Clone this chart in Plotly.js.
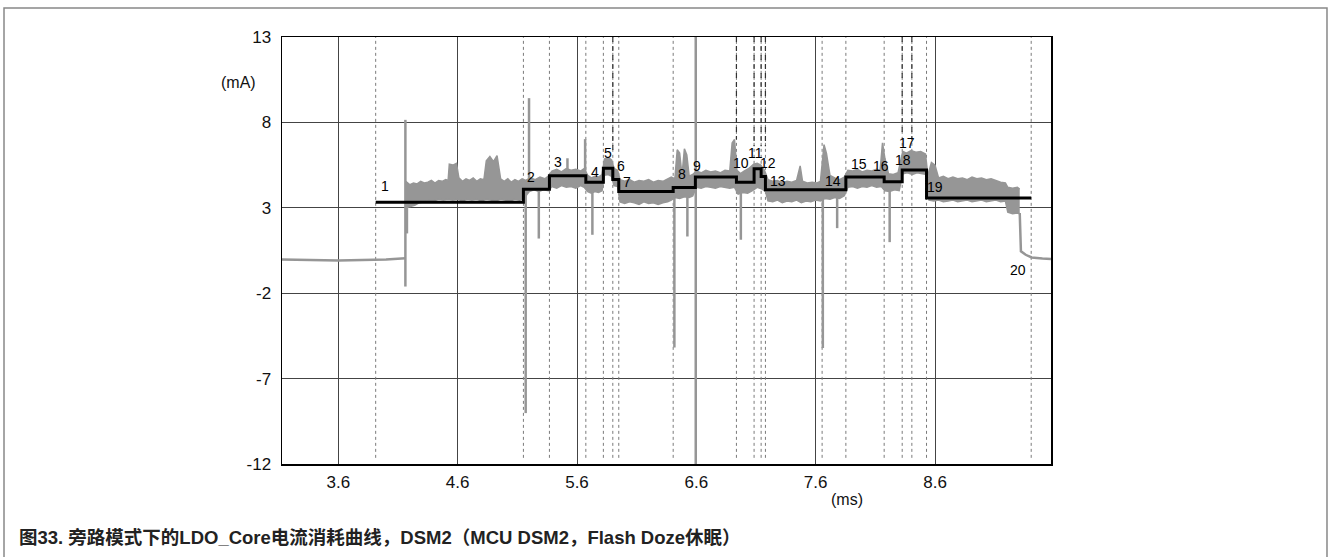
<!DOCTYPE html>
<html>
<head>
<meta charset="utf-8">
<script src="https://cdn.plot.ly/plotly-3.0.1.min.js"></script>
<style>
html,body{margin:0;padding:0;background:#fff;}
#chart{width:1331px;height:557px;}
</style>
</head>
<body>
<div id="chart"></div>
<script>
// ---------- data ----------
// x axis ticks (ms)
var xTicks = [3.6, 4.6, 5.6, 6.6, 7.6, 8.6];
var yTicks = [-12, -7, -2, 3, 8, 13];

// idle current before the event (mA)
var leadX = [3.128, 3.6, 4.0, 4.155, 4.162];
var leadY = [-0.03, -0.08, -0.03, 0.02, 0.05];

// upper envelope of the measured current band
var upX = [4.165,4.20,4.23,4.26,4.29,4.32,4.35,4.38,4.41,4.44,4.47,4.50,4.52,4.53,4.56,4.59,4.61,4.64,4.67,4.70,4.73,4.76,4.79,4.82,4.84,4.87,4.90,4.93,4.96,4.99,5.02,5.05,5.08,5.11,5.14,5.17,5.21,5.25,5.29,5.33,5.36,5.39,5.43,5.47,5.51,5.55,5.59,5.63,5.66,5.69,5.72,5.75,5.78,5.81,5.83,5.86,5.89,5.91,5.94,5.96,6.00,6.04,6.08,6.12,6.16,6.20,6.24,6.28,6.32,6.36,6.39,6.42,6.44,6.46,6.48,6.50,6.52,6.54,6.57,6.60,6.64,6.68,6.72,6.76,6.80,6.84,6.88,6.90,6.92,6.94,6.97,7.00,7.04,7.08,7.11,7.14,7.17,7.20,7.24,7.28,7.32,7.36,7.40,7.44,7.47,7.49,7.53,7.57,7.61,7.64,7.67,7.69,7.72,7.76,7.80,7.84,7.87,7.91,7.95,7.99,8.03,8.07,8.11,8.14,8.16,8.18,8.21,8.25,8.29,8.33,8.36,8.40,8.44,8.48,8.52,8.54,8.57,8.60,8.63,8.67,8.71,8.75,8.79,8.83,8.87,8.91,8.95,8.99,9.03,9.07,9.11,9.15,9.19,9.21,9.25,9.29,9.31];
var upY = [4.55,4.35,4.45,4.40,4.55,4.45,4.50,4.60,4.45,4.60,4.55,4.65,4.60,5.55,5.50,5.60,4.75,4.55,4.70,4.60,4.75,4.55,4.70,4.65,5.75,6.00,5.70,6.05,4.70,4.55,4.70,4.50,4.65,4.55,4.70,4.60,4.75,4.65,4.80,4.70,4.85,5.15,5.25,5.10,5.30,5.20,5.25,5.15,5.30,4.90,4.75,4.85,4.80,4.95,5.85,5.95,5.80,5.30,5.20,4.65,4.55,4.65,4.50,4.60,4.55,4.65,4.50,4.60,4.55,4.70,4.80,4.70,6.40,6.20,4.90,6.45,6.10,4.85,4.95,5.15,5.05,5.20,5.10,5.15,5.05,5.20,5.15,6.80,7.00,5.20,5.00,5.15,5.30,5.55,5.60,5.50,5.20,4.65,4.55,4.60,4.45,4.55,4.50,4.60,5.45,4.55,4.45,4.50,4.45,4.55,6.70,6.20,4.90,4.75,4.65,4.80,5.20,5.15,5.25,5.10,5.20,5.15,5.25,5.20,6.80,5.90,5.00,4.95,5.05,6.30,6.20,6.35,6.25,6.30,6.15,4.90,5.65,5.50,4.75,4.85,4.70,4.80,4.70,4.75,4.65,4.80,4.70,4.75,4.65,4.70,4.60,4.50,4.45,4.20,4.15,4.20,4.10];

// lower envelope of the measured current band
var lowX = [4.165,4.20,4.24,4.28,4.32,4.36,4.40,4.44,4.48,4.52,4.56,4.60,4.64,4.68,4.72,4.76,4.80,4.84,4.88,4.92,4.96,5.00,5.04,5.08,5.12,5.16,5.20,5.24,5.28,5.32,5.36,5.39,5.43,5.47,5.51,5.55,5.59,5.63,5.66,5.69,5.72,5.75,5.78,5.81,5.83,5.86,5.89,5.91,5.94,5.96,6.00,6.04,6.08,6.12,6.16,6.20,6.24,6.28,6.32,6.36,6.39,6.42,6.46,6.50,6.54,6.57,6.60,6.64,6.68,6.72,6.76,6.80,6.84,6.88,6.92,6.95,6.99,7.03,7.07,7.11,7.15,7.18,7.20,7.24,7.28,7.32,7.36,7.40,7.44,7.48,7.52,7.56,7.60,7.64,7.68,7.72,7.76,7.80,7.84,7.87,7.91,7.95,7.99,8.03,8.07,8.11,8.15,8.18,8.22,8.26,8.30,8.33,8.37,8.41,8.45,8.49,8.53,8.55,8.59,8.63,8.67,8.71,8.75,8.79,8.83,8.87,8.91,8.95,8.99,9.03,9.07,9.11,9.15,9.19,9.21,9.25,9.29,9.31];
var lowY = [3.00,3.05,3.15,3.30,3.35,3.45,3.40,3.50,3.45,3.50,3.45,3.50,3.40,3.50,3.45,3.50,3.40,3.50,3.45,3.40,3.50,3.45,3.40,3.50,3.45,3.60,3.95,4.05,3.95,4.05,4.00,4.25,4.15,4.30,4.20,4.25,4.15,4.30,4.20,3.95,3.85,3.95,3.90,4.00,4.90,4.95,4.85,4.30,4.25,3.35,3.25,3.35,3.30,3.20,3.35,3.25,3.30,3.20,3.30,3.35,3.45,3.60,3.55,3.65,3.60,3.70,4.20,4.15,4.25,4.20,4.15,4.25,4.20,4.15,4.20,3.80,3.90,3.85,4.00,4.20,4.10,3.95,3.40,3.35,3.45,3.30,3.40,3.35,3.45,3.30,3.40,3.35,3.45,3.40,3.55,3.50,3.60,3.55,3.70,4.20,4.25,4.15,4.25,4.20,4.30,4.20,4.25,4.00,3.95,4.05,4.00,5.00,5.05,4.95,5.05,5.00,4.95,3.45,3.40,3.45,3.35,3.40,3.45,3.35,3.40,3.45,3.35,3.40,3.45,3.35,3.40,3.45,3.35,3.40,2.75,2.65,2.70,2.65];

// current after the event returns to idle
var tailX = [9.31, 9.32, 9.36, 9.41, 9.50, 9.572];
var tailY = [2.70, 0.45, 0.25, 0.09, 0.03, 0.00];

// narrow current spikes: position, high and low value
var spikeX    = [4.162, 4.175, 5.170, 5.198, 5.280, 5.520, 5.668, 5.729, 6.416, 6.525, 6.595, 6.973, 7.660, 7.780, 8.220];
var spikeHigh = [8.15, 3.40, 4.40, 9.42, 4.00, 5.90, 7.02, 4.00, 3.60, 3.70, 13.0, 4.00, 3.50, 3.60, 4.00];
var spikeLow  = [-1.61, 1.50, -9.02, 4.00, 1.20, 5.00, 4.50, 1.42, -5.18, 1.32, -12.0, 1.13, -5.21, 1.81, 0.99];

// phase boundaries and average current per phase (black step line)
var stepX = [3.913, 5.151, 5.369, 5.674, 5.821, 5.900, 5.950, 6.406, 6.592, 6.936, 7.084, 7.143, 7.179, 7.853, 8.174, 8.325, 8.529, 9.406];
var stepY = [3.33, 4.09, 4.87, 4.50, 5.32, 4.66, 3.95, 4.19, 4.80, 4.50, 5.28, 4.83, 4.05, 4.80, 4.52, 5.21, 3.57, 3.57];

// vertical marker lines (dotted, full height)
var markerX = [3.913, 5.151, 5.369, 5.674, 5.821, 5.900, 5.950, 6.406, 6.936, 7.084, 7.143, 7.179, 7.654, 7.853, 8.174, 8.325, 8.406, 8.529, 9.406];
var markerTop = 13;
var markerBottom = -11.64;
// dashed leaders at the top of some markers
var leaderX   = [5.900, 6.936, 7.084, 7.143, 7.179, 8.325, 8.406];
var leaderEnd = [6.3, 7.0, 6.6, 6.6, 6.6, 7.4, 7.0];

// phase labels
var phaseLabels = ['1','2','3','4','5','6','7','8','9','10','11','12','13','14','15','16','17','18','19','20'];
var phaseLabelX = [3.993, 5.217, 5.440, 5.748, 5.859, 5.971, 6.015, 6.478, 6.604, 6.973, 7.098, 7.200, 7.288, 7.749, 7.959, 8.149, 8.368, 8.334, 8.601, 9.294];
var phaseLabelY = [4.27, 4.80, 5.68, 5.07, 6.20, 5.42, 4.51, 4.95, 5.44, 5.60, 6.20, 5.65, 4.58, 4.58, 5.56, 5.42, 6.82, 5.78, 4.24, -0.67];

var caption = '图33. 旁路模式下的LDO_Core电流消耗曲线，DSM2（MCU DSM2，Flash Doze休眠）';

// ---------- build ----------
var GREY = '#969696';
var FONT = 'Liberation Sans, Arial, Helvetica, sans-serif';

function pairs(xs, y0s, y1s) {
  var X = [], Y = [];
  for (var i = 0; i < xs.length; i++) {
    X.push(xs[i], xs[i], null);
    Y.push(y0s[i], y1s[i], null);
  }
  return {x: X, y: Y};
}

var mk = pairs(markerX, markerX.map(function(){return markerBottom;}), markerX.map(function(){return markerTop;}));
var ld = pairs(leaderX, leaderX.map(function(){return markerTop;}), leaderEnd);
var sp = pairs(spikeX, spikeLow, spikeHigh);

var traces = [
  {x: mk.x, y: mk.y, mode: 'lines', line: {color: '#7a7a7a', width: 1, dash: 'dot'}, hoverinfo: 'skip', showlegend: false},
  {x: ld.x, y: ld.y, mode: 'lines', line: {color: '#333', width: 1.2, dash: '5px,4px'}, hoverinfo: 'skip', showlegend: false},
  {x: leadX, y: leadY, mode: 'lines', line: {color: GREY, width: 2.5}, showlegend: false},
  {x: lowX, y: lowY, mode: 'lines', line: {color: GREY, width: 1.5}, showlegend: false},
  {x: upX, y: upY, mode: 'lines', fill: 'tonexty', fillcolor: GREY, line: {color: GREY, width: 1.5}, showlegend: false},
  {x: tailX, y: tailY, mode: 'lines', line: {color: GREY, width: 2.5}, showlegend: false},
  {x: sp.x, y: sp.y, mode: 'lines', line: {color: GREY, width: 2.5}, showlegend: false},
  {x: stepX, y: stepY, mode: 'lines', line: {color: '#000', width: 3, shape: 'hv'}, showlegend: false}
];

var annotations = [];
for (var i = 0; i < phaseLabels.length; i++) {
  annotations.push({x: phaseLabelX[i], y: phaseLabelY[i], xref: 'x', yref: 'y', text: phaseLabels[i],
    xanchor: 'center', yanchor: 'middle', borderpad: 0,
    showarrow: false, font: {family: FONT, size: 14, color: '#000'}});
}
annotations.push({x: -0.0572, y: 0.8923, xref: 'paper', yref: 'paper', xanchor: 'center', yanchor: 'middle',
  text: '(mA)', showarrow: false, font: {family: FONT, size: 16, color: '#111'}});
annotations.push({x: 0.7347, y: -0.0820, xref: 'paper', yref: 'paper', xanchor: 'center', yanchor: 'middle',
  text: '(ms)', showarrow: false, font: {family: FONT, size: 16, color: '#111'}});
annotations.push({x: -0.3446, y: -0.1733, xref: 'paper', yref: 'paper', xanchor: 'left', yanchor: 'middle',
  text: '<b>' + caption + '</b>', showarrow: false,
  font: {family: 'Liberation Sans, Noto Sans CJK SC, sans-serif', size: 18.5, color: '#222'}});

var axisCommon = {
  showgrid: true, gridcolor: '#444', gridwidth: 1,
  showline: true, mirror: true, linecolor: '#000', linewidth: 1.5,
  zeroline: false, ticks: '', tickfont: {family: FONT, size: 17, color: '#111'},
  fixedrange: true
};

var layout = {
  width: 1331, height: 557,
  margin: {l: 282, r: 280, t: 37, b: 93},
  paper_bgcolor: '#fff', plot_bgcolor: '#fff',
  showlegend: false,
  xaxis: Object.assign({}, axisCommon, {range: [3.128, 9.572], tickmode: 'array', tickvals: xTicks,
    ticktext: xTicks.map(function(v){return v.toFixed(1);}), ticklabelstandoff: 2}),
  yaxis: Object.assign({}, axisCommon, {range: [-12, 13], tickmode: 'array', tickvals: yTicks,
    ticktext: yTicks.map(String), ticklabelstandoff: 6}),
  annotations: annotations,
  shapes: [
    {type: 'rect', xref: 'paper', yref: 'paper', x0: -0.3615, x1: 1.3589, y0: -0.25, y1: 1.0679,
     line: {color: '#888', width: 1.5}, fillcolor: 'rgba(0,0,0,0)', layer: 'below'}
  ]
};

Plotly.newPlot('chart', traces, layout, {staticPlot: true, displayModeBar: false});
</script>
</body>
</html>
